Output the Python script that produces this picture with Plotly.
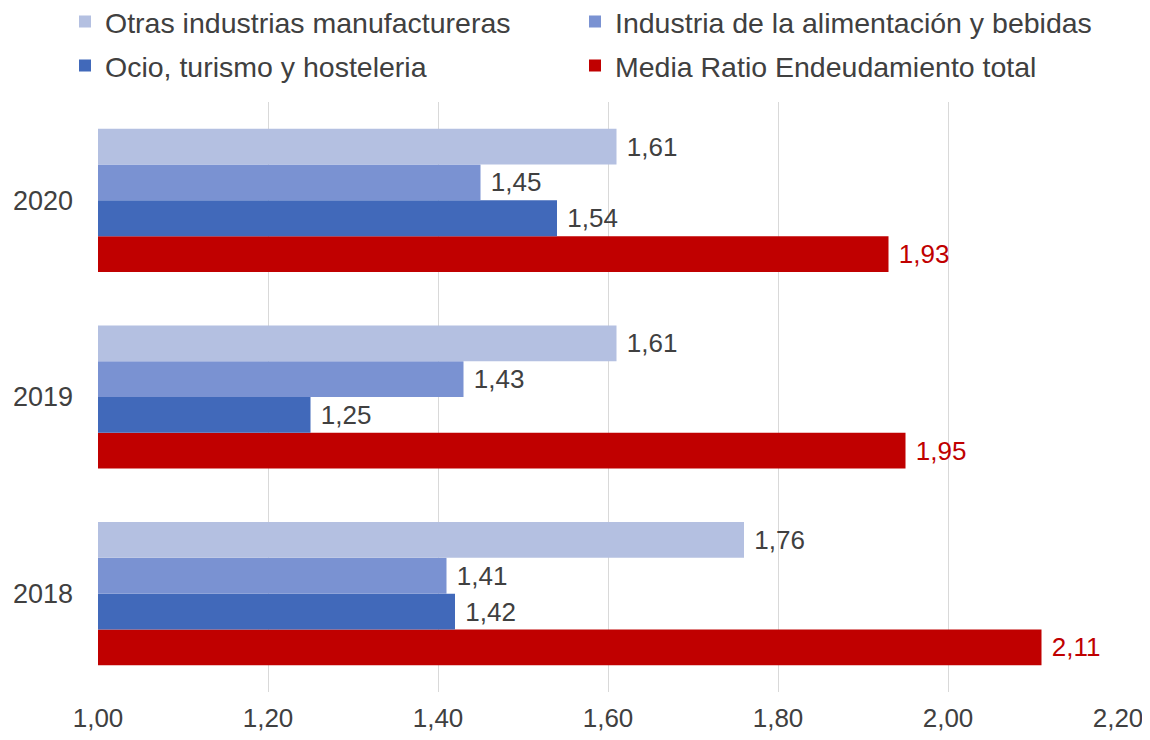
import plotly.graph_objects as go

years = ["2018", "2019", "2020"]
otras = [1.76, 1.61, 1.61]
alimentacion = [1.41, 1.43, 1.45]
ocio = [1.42, 1.25, 1.54]
media = [2.11, 1.95, 1.93]

# (name, values, bar colour, label colour, legend id)
series = [
    ("Media Ratio Endeudamiento total", media, "#C00000", "#C00000", "legend4"),
    ("Ocio, turismo y hosteleria", ocio, "#4169BA", "#404040", "legend3"),
    ("Industria de la alimentación y bebidas", alimentacion, "#7A92D2", "#404040", "legend2"),
    ("Otras industrias manufactureras", otras, "#B4C0E1", "#404040", "legend"),
]

FONT = "Liberation Sans, Arial"

fig = go.Figure()
for name, vals, color, tcolor, leg in series:
    fig.add_trace(go.Bar(
        y=years, x=vals, name=name, orientation="h", legend=leg,
        showlegend=True,
        marker=dict(color=color, line=dict(width=0)),
        texttemplate=" %{x:.2f}", textposition="outside",
        textfont=dict(family=FONT, size=26, color=tcolor),
        cliponaxis=False,
    ))

W, H = 1142, 732  # page body adds 8px margin

leg_common = dict(
    orientation="h",
    xref="container", yref="container",
    xanchor="left", yanchor="middle",
    font=dict(family=FONT, size=28.5, color="#404040"),
    itemclick=False, bgcolor="rgba(0,0,0,0)",
)

col1, col2 = 57 / W, 567 / W
row1, row2 = 1 - 14 / H, 1 - 58 / H

fig.update_layout(
    width=W, height=H,
    showlegend=True,
    barmode="group", bargap=0.272, bargroupgap=0,
    separators=",.",
    plot_bgcolor="white", paper_bgcolor="white",
    font=dict(family=FONT, size=26, color="#404040"),
    margin=dict(l=90, r=32, t=93.5, b=47.5, autoexpand=False),
    legend=dict(x=col1, y=row1, **leg_common),
    legend2=dict(x=col2, y=row1, **leg_common),
    legend3=dict(x=col1, y=row2, **leg_common),
    legend4=dict(x=col2, y=row2, **leg_common),
    xaxis=dict(
        range=[1.0, 2.2], tick0=1.0, dtick=0.2, tickformat=".2f",
        showgrid=True, gridcolor="#D9D9D9", gridwidth=1,
        zeroline=False, showline=False, ticks="",
        ticklabelstandoff=8, automargin=False,
        tickfont=dict(size=26, color="#404040"),
    ),
    yaxis=dict(
        showgrid=False, zeroline=False, showline=False, ticks="",
        ticklabelstandoff=24, automargin=False,
        tickfont=dict(size=27, color="#404040"),
        categoryorder="array", categoryarray=years,
    ),
)

fig.write_html("out.html")
